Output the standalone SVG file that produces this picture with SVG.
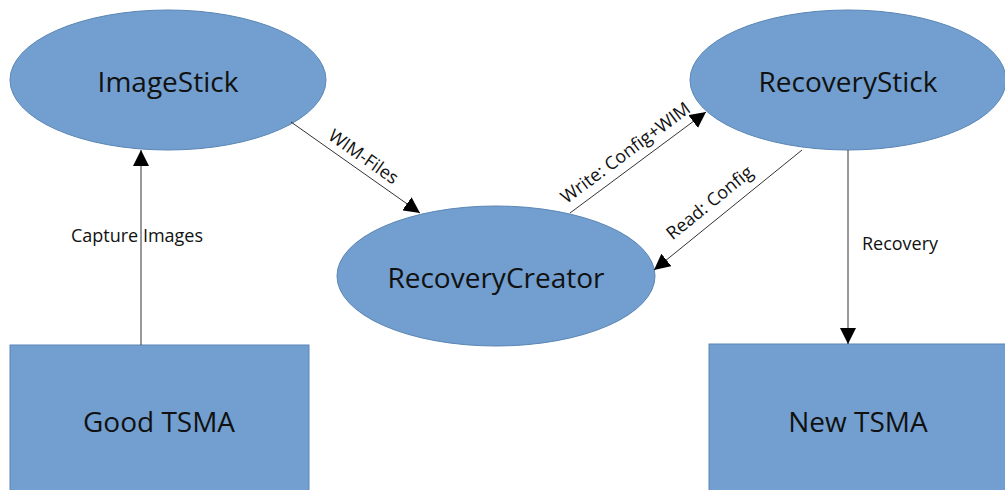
<svg xmlns="http://www.w3.org/2000/svg" width="1005" height="490" viewBox="0 0 1005 490">
<style>
.n{fill:#729fcf;stroke:#5b86b5;stroke-width:1}
.t{font-family:"Open Sans","Noto Sans","DejaVu Sans",sans-serif;font-size:28px;fill:#111;text-anchor:middle;dominant-baseline:central}
.l{font-family:"Open Sans","Noto Sans","DejaVu Sans",sans-serif;font-size:18px;fill:#111;text-anchor:middle;dominant-baseline:central}
.c{stroke:#333;stroke-width:1;fill:none;marker-end:url(#a)}
</style>
<defs>
<marker id="a" viewBox="0 0 10 10" refX="10" refY="5" markerWidth="16" markerHeight="16" markerUnits="userSpaceOnUse" orient="auto">
<path d="M0,0 L10,5 L0,10 Z" fill="#000"/>
</marker>
</defs>
<rect width="1005" height="490" fill="#fff"/>
<g id="ImageStick"><ellipse class="n" cx="168" cy="80" rx="158" ry="70"/><text class="t" x="168" y="81">ImageStick</text></g>
<g id="RecoveryStick"><ellipse class="n" cx="848" cy="80" rx="158" ry="70"/><text class="t" x="848" y="81">RecoveryStick</text></g>
<g id="RecoveryCreator"><ellipse class="n" cx="496" cy="276" rx="159" ry="70"/><text class="t" x="496" y="277">RecoveryCreator</text></g>
<g id="GoodTSMA"><rect class="n" x="10" y="345" width="299" height="150"/><text class="t" x="159" y="421">Good TSMA</text></g>
<g id="NewTSMA"><rect class="n" x="709" y="344" width="300" height="150"/><text class="t" x="858" y="421">New TSMA</text></g>
<g id="connectors">
<line class="c" x1="141" y1="345" x2="141" y2="150"/>
<line class="c" x1="291" y1="122" x2="420" y2="213"/>
<line class="c" x1="570" y1="213" x2="706" y2="112"/>
<line class="c" x1="802" y1="150" x2="654" y2="270"/>
<line class="c" x1="848" y1="150" x2="848" y2="344"/>
<text class="l" x="137" y="235">Capture Images</text>
<text class="l" x="900" y="243">Recovery</text>
<text class="l" transform="translate(364,156) rotate(35.2)">WIM-Files</text>
<text class="l" transform="translate(625,152) rotate(-36.6)">Write: Config+WIM</text>
<text class="l" transform="translate(709,202) rotate(-39)">Read: Config</text>
</g>
</svg>
